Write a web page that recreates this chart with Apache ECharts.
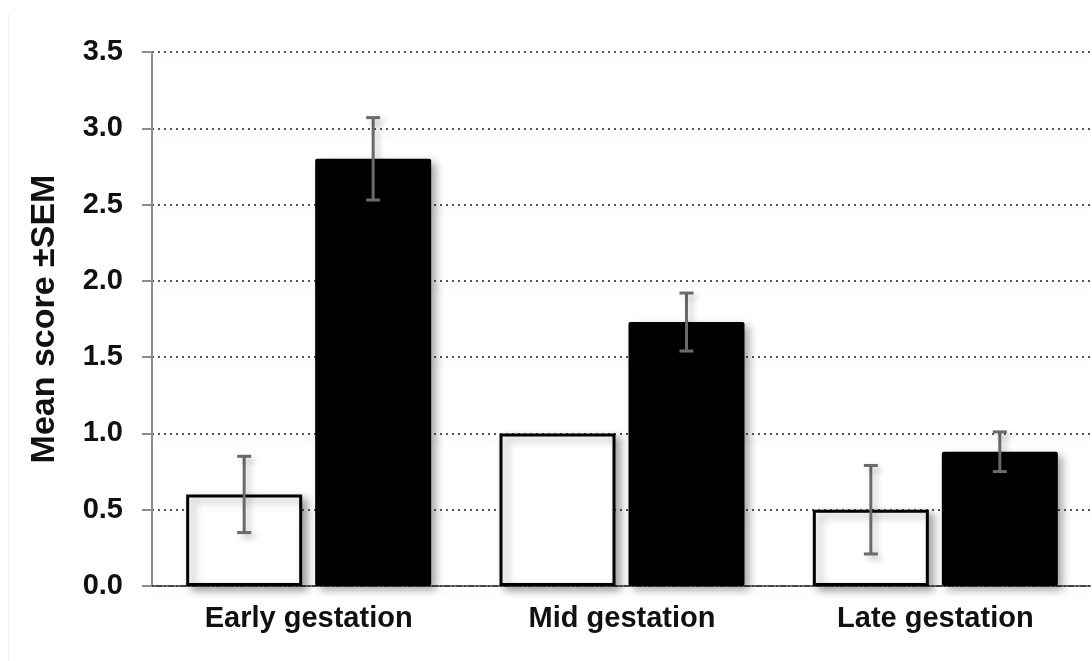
<!DOCTYPE html>
<html>
<head>
<meta charset="utf-8">
<style>
  html, body { margin: 0; padding: 0; background: #fff; }
  #chart { width: 1092px; height: 661px; }
</style>
<script src="https://cdn.jsdelivr.net/npm/echarts@6/dist/echarts.min.js"></script>
</head>
<body>
<div id="chart"></div>
<script>
// data
var categories = ['Early gestation', 'Mid gestation', 'Late gestation'];
var controlMean = [0.6, 1.0, 0.5];
var controlSem = [0.25, 0, 0.29];
var treatedMean = [2.8, 1.73, 0.88];
var treatedSem = [0.27, 0.19, 0.13];
var yTicks = [0, 0.5, 1, 1.5, 2, 2.5, 3, 3.5];

var BAR_W = 116, BAR_GAP = 13;
var font = '"Liberation Sans", Arial, sans-serif';

var chart = echarts.init(document.getElementById('chart'));

// error bar drawn at the centre of one bar of the pair
function errorBars(means, sems, side) {
    var data = means.map(function (m, i) { return [i, m - sems[i], m + sems[i], sems[i]]; });
    return {
        type: 'custom',
        z: 10,
        data: data,
        encode: { x: 0, y: [1, 2] },
        renderItem: function (params, api) {
            if (api.value(3) === 0) return;
            var lo = api.coord([api.value(0), api.value(1)]);
            var hi = api.coord([api.value(0), api.value(2)]);
            var x = lo[0] + side * (BAR_W + BAR_GAP) / 2;
            var cap = 7;
            var style = {
                stroke: '#6a6a6a', lineWidth: 3,
                shadowBlur: 6, shadowColor: 'rgba(0,0,0,0.25)', shadowOffsetX: 4, shadowOffsetY: 4
            };
            return {
                type: 'group',
                children: [
                    { type: 'line', shape: { x1: x, y1: lo[1], x2: x, y2: hi[1] }, style: style },
                    { type: 'line', shape: { x1: x - cap, y1: lo[1], x2: x + cap, y2: lo[1] }, style: style },
                    { type: 'line', shape: { x1: x - cap, y1: hi[1], x2: x + cap, y2: hi[1] }, style: style }
                ]
            };
        }
    };
}

var barShadow = {
    shadowBlur: 8,
    shadowColor: 'rgba(0,0,0,0.35)',
    shadowOffsetX: 5,
    shadowOffsetY: 4
};

chart.setOption({
    backgroundColor: '#fff',
    animation: false,
    graphic: [{
        type: 'line',
        shape: { x1: 8.5, y1: 14, x2: 8.5, y2: 661 },
        style: { stroke: '#f0f0f0', lineWidth: 1 }
    }],
    grid: { left: 152, right: -2, top: 52, bottom: 75 },
    xAxis: {
        type: 'category',
        data: categories,
        axisLine: { show: true, lineStyle: { color: '#444', type: 'dotted', width: 2 } },
        axisTick: { show: false },
        axisLabel: {
            margin: 18,
            color: '#111',
            fontFamily: font,
            fontWeight: 'bold',
            fontSize: 29
        }
    },
    yAxis: {
        type: 'value',
        min: yTicks[0],
        max: yTicks[yTicks.length - 1],
        interval: 0.5,
        name: 'Mean score \u00b1SEM',
        nameLocation: 'middle',
        nameGap: 90,
        nameTextStyle: { color: '#111', fontFamily: font, fontWeight: 'bold', fontSize: 34 },
        axisLine: { show: true, lineStyle: { color: '#8c8c8c', width: 2 } },
        axisTick: { show: true, inside: false, length: 10, lineStyle: { color: '#8c8c8c', width: 2 } },
        axisLabel: {
            margin: 29,
            color: '#111',
            fontFamily: font,
            fontWeight: 'bold',
            fontSize: 29,
            formatter: function (v) { return v.toFixed(1); }
        },
        splitLine: {
            show: true,
            lineStyle: {
                color: '#555', type: [2, 4], width: 2,
                shadowBlur: 6, shadowColor: 'rgba(0,0,0,0.12)', shadowOffsetY: 6
            }
        }
    },
    series: [
        {
            name: 'Control',
            type: 'bar',
            data: controlMean,
            barWidth: BAR_W,
            barGap: (BAR_GAP / BAR_W * 100) + '%',
            itemStyle: Object.assign({ color: '#fff', borderColor: '#000', borderWidth: 3 }, barShadow)
        },
        {
            name: 'Treated',
            type: 'bar',
            data: treatedMean,
            barWidth: BAR_W,
            barGap: (BAR_GAP / BAR_W * 100) + '%',
            itemStyle: Object.assign({ color: '#000', borderRadius: 2 }, barShadow)
        },
        errorBars(controlMean, controlSem, -1),
        errorBars(treatedMean, treatedSem, 1)
    ]
});
</script>
</body>
</html>
